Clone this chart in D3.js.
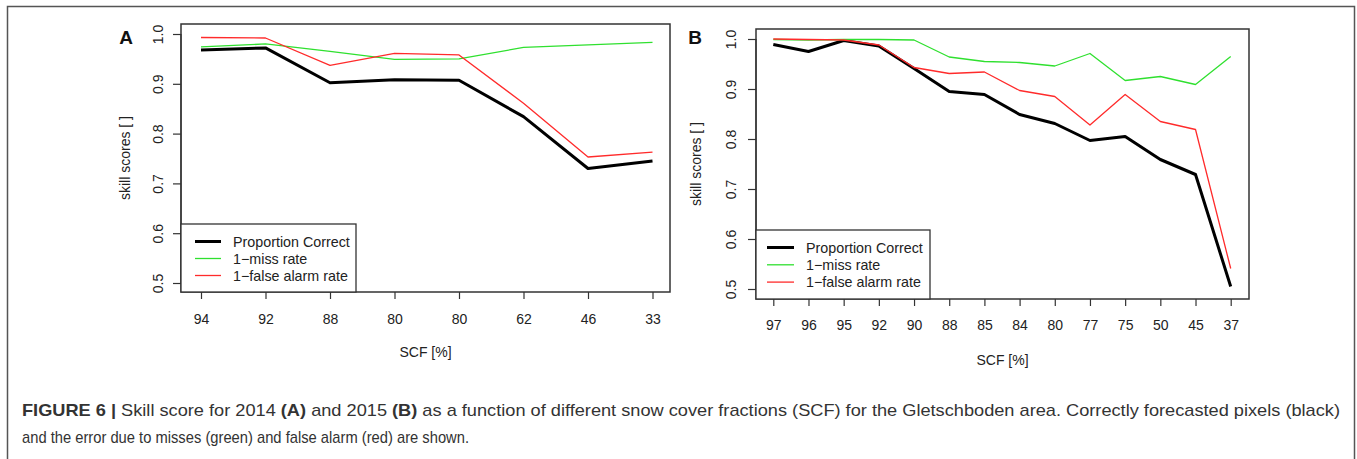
<!DOCTYPE html>
<html><head><meta charset="utf-8">
<script src="https://cdn.jsdelivr.net/npm/d3@7/dist/d3.min.js"></script>
<style>
body{margin:0;background:#fff;}
svg text{font-family:"Liberation Sans",Arial,Helvetica,sans-serif;}
</style></head>
<body><svg id="c" width="1357" height="459"></svg>
<script>
// ---- data ----
const scfA = ["94","92","88","80","80","62","46","33"];
const pcA  = [0.968,0.972,0.902,0.908,0.907,0.834,0.730,0.745];
const missA= [0.974,0.980,0.965,0.949,0.950,0.973,0.978,0.983];
const faA  = [0.993,0.992,0.937,0.961,0.958,0.861,0.753,0.763];

const scfB = ["97","96","95","92","90","88","85","84","80","77","75","50","45","37"];
const pcB  = [0.989,0.975,0.997,0.986,0.941,0.895,0.889,0.849,0.831,0.797,0.805,0.759,0.729,0.505];
const missB= [0.999,0.998,0.999,0.999,0.998,0.964,0.955,0.953,0.946,0.971,0.917,0.925,0.909,0.965];
const faB  = [1.000,0.999,0.998,0.988,0.943,0.931,0.934,0.897,0.885,0.828,0.889,0.835,0.819,0.541];

const yTicks = [0.5,0.6,0.7,0.8,0.9,1.0];
const legendLabels = ["Proportion Correct","1\u2212miss rate","1\u2212false alarm rate"];

const svg = d3.select("#c");
// outer frame
svg.append("rect").attr("x",7.5).attr("y",6.5).attr("width",1347).attr("height",480)
  .attr("fill","none").attr("stroke","#555").attr("stroke-width",1.5);

function panel(o){
  const g = svg.append("g");
  const x = d3.scaleLinear().domain([0,o.cats.length-1]).range([o.x0,o.x1]);
  const y = d3.scaleLinear().domain([0.5,1.0]).range([o.y05,o.y10]);
  const line = d3.line().x((d,i)=>x(i)).y(d=>y(d));
  const series = [
    {v:o.pc, c:"#000", w:3},
    {v:o.miss, c:"#2fe02f", w:1.3},
    {v:o.fa, c:"#ff2b2b", w:1.3}
  ];
  series.forEach(s=>{
    g.append("path").datum(s.v).attr("d",line).attr("fill","none")
      .attr("stroke",s.c).attr("stroke-width",s.w).attr("stroke-linejoin","round");
  });
  // box
  g.append("rect").attr("x",o.bx0).attr("y",o.by0).attr("width",o.bx1-o.bx0).attr("height",o.by1-o.by0)
    .attr("fill","none").attr("stroke","#333").attr("stroke-width",1.5);
  // y axis
  const ya = g.append("g").attr("transform",`translate(${o.bx0},0)`)
    .call(d3.axisLeft(y).tickValues(yTicks).tickFormat(d3.format(".1f")).tickSize(8).tickPadding(0));
  ya.select(".domain").attr("stroke","#333").attr("stroke-width",1.2)
    .attr("d",`M0,${y(0.5)}V${y(1.0)}`);
  ya.selectAll(".tick line").attr("stroke","#333").attr("stroke-width",1.2);
  ya.selectAll(".tick text").attr("font-size",14).attr("fill","#222")
    .attr("text-anchor","middle").attr("x",null)
    .attr("transform",`translate(${o.ylabX-o.bx0},0) rotate(-90)`).attr("dy","0.36em");
  // x axis
  const xa = g.append("g").attr("transform",`translate(0,${o.by1})`)
    .call(d3.axisBottom(x).tickValues(d3.range(o.cats.length)).tickFormat(i=>o.cats[i]).tickSize(7).tickPadding(0));
  xa.select(".domain").remove();
  xa.selectAll(".tick line").attr("stroke","#333").attr("stroke-width",1.2);
  xa.selectAll(".tick text").attr("font-size",14).attr("fill","#222")
    .attr("y",o.xlabY-o.by1).attr("dy","0.36em");
  // titles
  g.append("text").attr("x",(o.bx0+o.bx1)/2).attr("y",o.xtitY).attr("dy","0.36em")
    .attr("text-anchor","middle").attr("font-size",14).attr("fill","#222").text("SCF [%]");
  g.append("text").attr("transform",`translate(${o.ytitX},${(o.by0+o.by1)/2}) rotate(-90)`)
    .attr("dy","0.36em").attr("text-anchor","middle").attr("font-size",14).attr("fill","#222").text("skill scores [ ]");
  g.append("text").attr("x",o.letX).attr("y",o.letY).attr("dy","0.36em").attr("text-anchor","middle")
    .attr("font-size",19).attr("font-weight","bold").attr("fill","#111").text(o.letter);
  // legend
  g.append("rect").attr("x",o.bx0).attr("y",o.lgTop).attr("width",o.lgRight-o.bx0).attr("height",o.by1-o.lgTop)
    .attr("fill","#fff").attr("stroke","#333").attr("stroke-width",1.3);
  const lc = [{c:"#000",w:3},{c:"#2fe02f",w:1.3},{c:"#ff2b2b",w:1.3}];
  legendLabels.forEach((t,i)=>{
    const yy = o.lgY0 + i*o.lgDy;
    g.append("line").attr("x1",o.lgL0).attr("x2",o.lgL1).attr("y1",yy).attr("y2",yy)
      .attr("stroke",lc[i].c).attr("stroke-width",lc[i].w);
    g.append("text").attr("x",o.lgT).attr("y",yy).attr("dy","0.36em").attr("font-size",14.3)
      .attr("fill","#222").text(t);
  });
}

panel({cats:scfA,pc:pcA,miss:missA,fa:faA,letter:"A",
  x0:201,x1:652.5,y05:283,y10:34,bx0:181,bx1:670,by0:24,by1:292,
  ylabX:158,xlabY:319,xtitY:352,ytitX:125,letX:126,letY:37,
  lgTop:224,lgRight:356,lgY0:241.5,lgDy:17,lgL0:195,lgL1:221,lgT:233});

panel({cats:scfB,pc:pcB,miss:missB,fa:faB,letter:"B",
  x0:773.3,x1:1230.7,y05:289,y10:39,bx0:756,bx1:1249,by0:29,by1:299,
  ylabX:731,xlabY:325,xtitY:360,ytitX:696,letX:695,letY:37,
  lgTop:230,lgRight:930,lgY0:247.5,lgDy:17.3,lgL0:767,lgL1:794,lgT:806});

// caption
const cap = svg.append("g").attr("font-size",17).attr("fill","#333");
const t1 = cap.append("text").attr("x",22).attr("y",416)
  .attr("textLength",1318).attr("lengthAdjust","spacingAndGlyphs");
t1.append("tspan").attr("font-weight","bold").text("FIGURE 6 | ");
t1.append("tspan").text("Skill score for 2014 ");
t1.append("tspan").attr("font-weight","bold").text("(A)");
t1.append("tspan").text(" and 2015 ");
t1.append("tspan").attr("font-weight","bold").text("(B)");
t1.append("tspan").text(" as a function of different snow cover fractions (SCF) for the Gletschboden area. Correctly forecasted pixels (black)");
cap.append("text").attr("x",22).attr("y",443).attr("textLength",447).attr("lengthAdjust","spacingAndGlyphs")
  .text("and the error due to misses (green) and false alarm (red) are shown.");
</script></body></html>
